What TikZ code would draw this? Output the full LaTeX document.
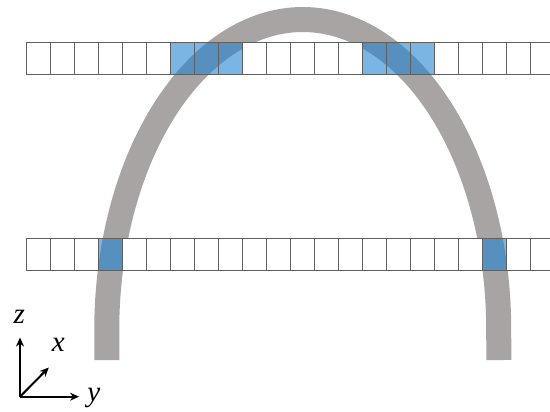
\documentclass[tikz,border=0pt]{standalone}
\usepackage{fontspec}
\setmainfont{Liberation Serif}
\usetikzlibrary{arrows.meta}
\definecolor{archgray}{RGB}{168,164,164}
\definecolor{cellblue}{RGB}{33,132,208}
\definecolor{cellline}{RGB}{95,95,95}
\begin{document}
\begin{tikzpicture}[x=1pt,y=-1pt,
  cell/.style={draw=cellline, line width=0.9pt, fill=white, minimum width=24pt, minimum height=32pt, inner sep=0pt, outer sep=0pt},
  bluecell/.style={draw=cellline, line width=0.9pt, fill=cellblue, fill opacity=0.6, minimum width=24pt, minimum height=32pt, inner sep=0pt, outer sep=0pt},
  arch/.style={draw=archgray, line width=25pt, line join=round},
  axis/.style={-{Stealth[length=9pt,width=8pt]}, line width=2pt},
  lab/.style={font=\fontsize{29}{29}\selectfont\itshape, inner sep=0pt, anchor=base}]
\useasboundingbox (0,0) rectangle (550,412);
\clip (0,0) rectangle (550,412);
% arch
\draw[arch] (106.75,360) -- (106.75,330)
  -- plot[domain=180:360, samples=150, smooth] ({302.75+196*cos(\x)}, {330+310.5*sin(\x)})
  -- (498.75,360);
% top row
\foreach \i in {0,...,5,9,10,...,13,17,18,...,21} {
  \node[cell] (t\i) at ({38.7+24*\i}, 58) {};
}
\foreach \i in {6,7,8,14,15,16} {
  \node[bluecell] (t\i) at ({38.7+24*\i}, 58) {};
}
% bottom row
\foreach \i in {0,1,2,4,5,...,18,20,21} {
  \node[cell] (b\i) at ({38.7+24*\i}, 254.7) {};
}
\foreach \i in {3,19} {
  \node[bluecell] (b\i) at ({38.7+24*\i}, 254.7) {};
}
% axes
\coordinate (o) at (20,396.7);
\coordinate (ze) at (20,337.5);
\coordinate (ye) at (79,396.7);
\coordinate (xe) at (48.8,367.5);
\draw[axis] (o) -- (ze);
\draw[axis] (o) -- (ye);
\draw[axis] (o) -- (xe);
\node[lab] (zl) at (19.2,323.3) {z};
\node[lab] (xl) at (58.3,351.7) {x};
\node[lab] (yl) at (93.7,401.6) {y};
\end{tikzpicture}
\end{document}
